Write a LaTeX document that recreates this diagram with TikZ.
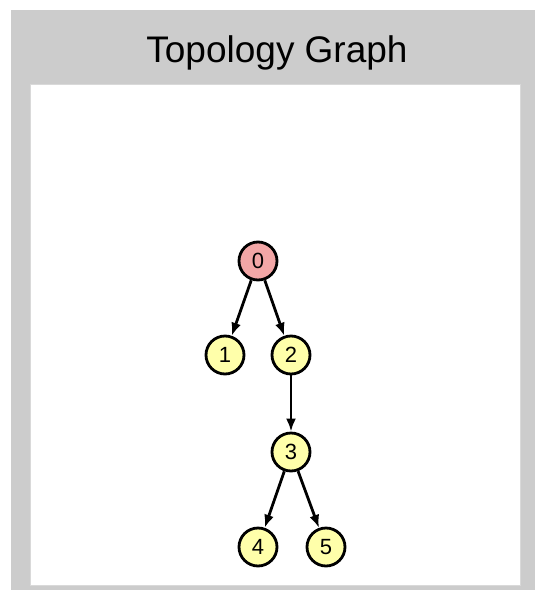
\documentclass[tikz,border=0pt]{standalone}
\usepackage{fontspec}
\setmainfont{Liberation Sans}
\usetikzlibrary{arrows.meta}
\definecolor{panelgray}{RGB}{204,204,204}
\definecolor{rootpink}{RGB}{242,166,166}
\definecolor{leafyellow}{RGB}{255,255,170}
\begin{document}
\begin{tikzpicture}[x=1pt,y=-1pt,
  vnode/.style={circle,draw=black,line width=2.8pt,minimum size=38pt,inner sep=0pt,fill=leafyellow,font=\fontsize{22}{22}\selectfont},
  rootnode/.style={vnode,fill=rootpink},
  edge/.style={line width=2.8pt,-{Latex[length=13pt,width=10pt]}}]
\useasboundingbox (0,0) rectangle (535,590);
\fill[white] (0,0) rectangle (535,590);
\fill[panelgray] (11,10) rectangle (535,590);
\fill[white] (30,84) rectangle (520,585);
\draw[gray!30,line width=0.8pt] (30,84) rectangle (520,585);
\node[font=\fontsize{37}{37}\selectfont] (title) at (277,53) {Topology Graph};
\node[rootnode] (n0) at (258,261) {0};
\node[vnode] (n1) at (225,355) {1};
\node[vnode] (n2) at (291,355) {2};
\node[vnode] (n3) at (291,452) {3};
\node[vnode] (n4) at (258,547) {4};
\node[vnode] (n5) at (326,547) {5};
\draw[edge] (n0) -- (n1);
\draw[edge] (n0) -- (n2);
\draw[edge] (n2) -- (n3);
\draw[edge] (n3) -- (n4);
\draw[edge] (n3) -- (n5);
\end{tikzpicture}
\end{document}
